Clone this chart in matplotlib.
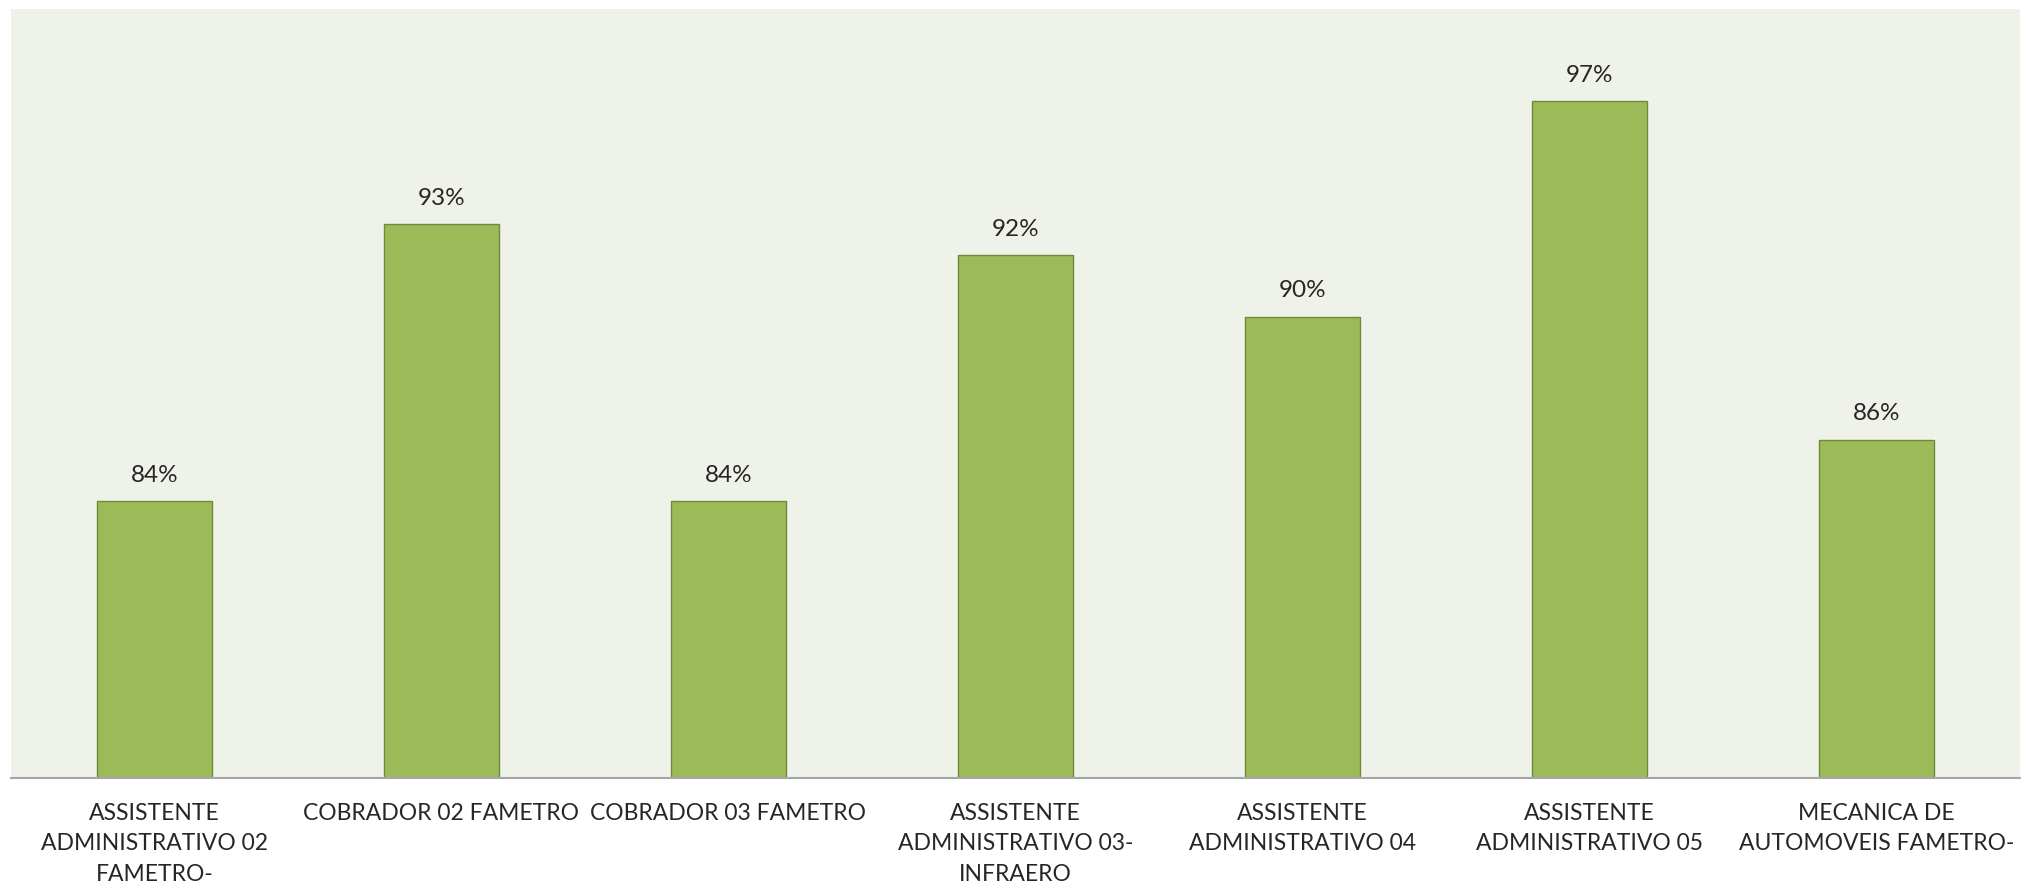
import matplotlib
matplotlib.use("Agg")
import matplotlib.pyplot as plt

# Data
categories = [
    "ASSISTENTE\nADMINISTRATIVO 02\nFAMETRO-",
    "COBRADOR 02 FAMETRO",
    "COBRADOR 03 FAMETRO",
    "ASSISTENTE\nADMINISTRATIVO 03-\nINFRAERO",
    "ASSISTENTE\nADMINISTRATIVO 04",
    "ASSISTENTE\nADMINISTRATIVO 05",
    "MECANICA DE\nAUTOMOVEIS FAMETRO-",
]
values = [0.84, 0.93, 0.84, 0.92, 0.90, 0.97, 0.86]
labels = ["84%", "93%", "84%", "92%", "90%", "97%", "86%"]

plt.rcParams['font.family'] = ['Lato', 'DejaVu Sans']

fig = plt.figure(figsize=(20.35, 8.89), dpi=100)
ax = fig.add_axes([0.0054, 0.1249, 0.9872, 0.865])
ax.set_facecolor("#eff2e9")

x = range(len(categories))
bars = ax.bar(x, values, width=0.40, color="#9bbb59", edgecolor="#71893f",
              linewidth=1.0, zorder=2)

ax.set_ylim(0.75, 1.00)
ax.set_xlim(-0.5, len(categories) - 0.5)

for b, lab in zip(bars, labels):
    ax.annotate(lab, (b.get_x() + b.get_width() / 2, b.get_height()),
                xytext=(0, 11), textcoords="offset points",
                ha="center", va="bottom", fontsize=17.5, color="#262626")

ax.set_xticks(list(x))
ax.set_xticklabels(categories, fontsize=16.5, color="#262626", linespacing=1.55)
ax.tick_params(axis="x", length=0, pad=18)
ax.set_yticks([])

for s in ["top", "right", "left"]:
    ax.spines[s].set_visible(False)
ax.spines["bottom"].set_color("#a6a6a6")
ax.spines["bottom"].set_linewidth(1.5)
ax.spines["bottom"].set_zorder(3)

fig.savefig("out.png", dpi=100)
